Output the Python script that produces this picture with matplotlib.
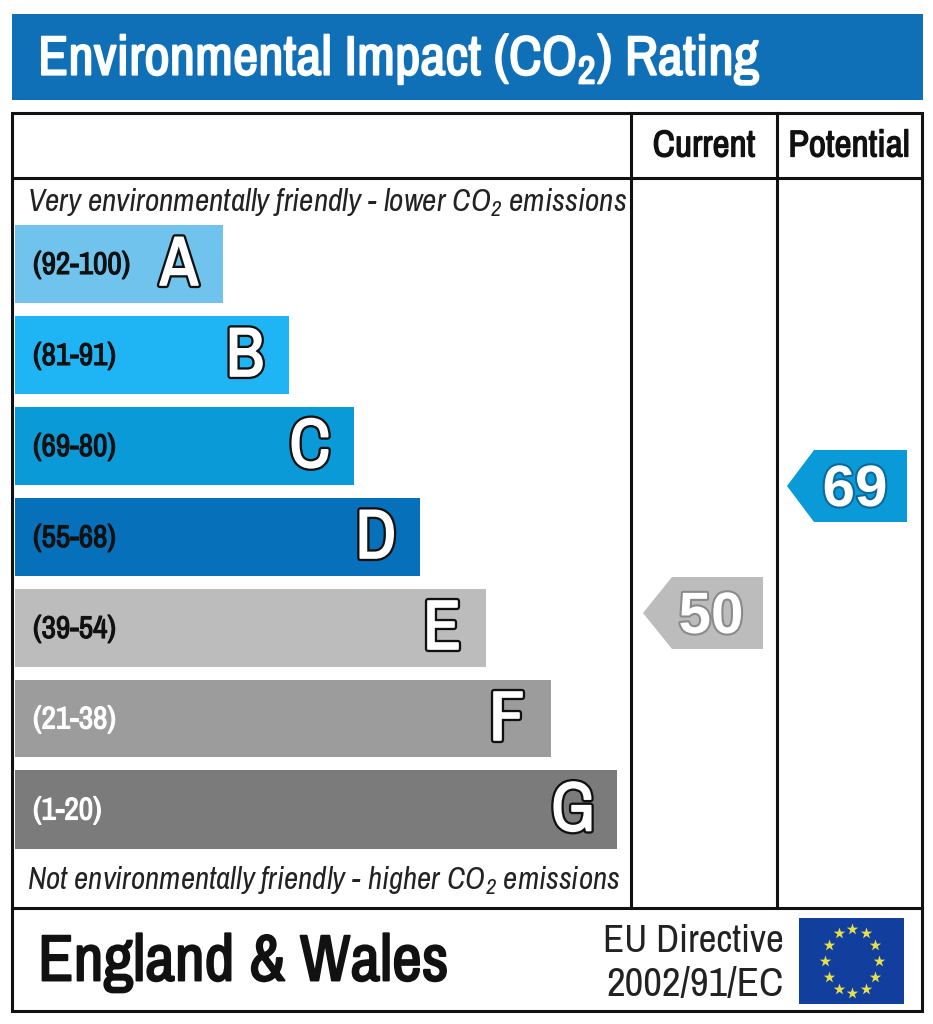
import numpy as np
import matplotlib.pyplot as plt
import matplotlib.patheffects as pe
from matplotlib.patches import Polygon, Rectangle

W, H = 933, 1024

bands = ['(92-100)', '(81-91)', '(69-80)', '(55-68)', '(39-54)', '(21-38)', '(1-20)']
letters = ['A', 'B', 'C', 'D', 'E', 'F', 'G']
bar_right = [223, 289, 354, 420, 486, 551, 617]
bar_top = [225, 316, 407, 498, 589, 680, 770]
bar_bottom = [303, 394, 485, 576, 667, 757, 849]
bar_colors = ['#6fc3ec', '#1fb5f5', '#0a9ad8', '#0670bb', '#bcbcbc', '#9c9c9c', '#7b7b7b']
label_colors = ['#111111', '#111111', '#111111', '#111111', '#111111', '#ffffff', '#ffffff']
current = 50
potential = 69

plt.rcParams['font.family'] = ['Archivo Narrow', 'Liberation Sans', 'DejaVu Sans']
plt.rcParams['mathtext.default'] = 'regular'
wide = ['Liberation Sans', 'DejaVu Sans']


# the narrow font only has one weight, so thicken it with a stroke
def heavy(color, width):
    return [pe.withStroke(linewidth=width, foreground=color)]


fig = plt.figure(figsize=(W / 100, H / 100), dpi=100)
ax = fig.add_axes([0, 0, 1, 1])
ax.set_xlim(0, W)
ax.set_ylim(H, 0)
ax.axis('off')

# header
ax.add_patch(Rectangle((12, 14), 911, 86, fc='#0f70b7', ec='none'))
ax.text(38, 60, 'Environmental Impact (CO$_2$) Rating', color='white', fontsize=40,
        va='center', ha='left', path_effects=heavy('white', 1.3))

# frame
lw = 2.2
ax.add_patch(Rectangle((12, 113), 910, 898, fc='none', ec='#111111', lw=lw))
ax.plot([12, 922], [178, 178], color='#111111', lw=lw)
ax.plot([12, 922], [908, 908], color='#111111', lw=lw)
ax.plot([631, 631], [113, 908], color='#111111', lw=lw)
ax.plot([777, 777], [113, 908], color='#111111', lw=lw)

ax.text(704, 146, 'Current', fontsize=27, ha='center', va='center', color='#111111',
        path_effects=heavy('#111111', 0.9))
ax.text(849, 146, 'Potential', fontsize=27, ha='center', va='center', color='#111111',
        path_effects=heavy('#111111', 0.9))

ax.text(27, 203, 'Very environmentally friendly - lower CO$_2$ emissions', fontsize=22.6,
        style='italic', va='center', color='#222222')
ax.text(27, 881, 'Not environmentally friendly - higher CO$_2$ emissions', fontsize=22.4,
        style='italic', va='center', color='#222222')

# bars
for i in range(len(bands)):
    top, bottom, right = bar_top[i], bar_bottom[i], bar_right[i]
    ax.add_patch(Rectangle((15, top), right - 15, bottom - top, fc=bar_colors[i], ec='none'))
    mid = (top + bottom) / 2
    ax.text(33, mid + 1, bands[i], fontsize=22.6, va='center', color=label_colors[i],
            path_effects=heavy(label_colors[i], 0.8))
    ax.text(right - 44, mid + 2, letters[i], fontsize=50, ha='center', va='center', color='white',
            path_effects=[pe.Stroke(linewidth=4.5, foreground='#111111'),
                          pe.Stroke(linewidth=1.2, foreground='white'), pe.Normal()])


# arrows
def arrow(x0, x1, tip, top, bottom, color, value, edge):
    mid = (top + bottom) / 2
    ax.add_patch(Polygon([(tip, mid), (x0, top), (x1, top), (x1, bottom), (x0, bottom)],
                         closed=True, fc=color, ec='none'))
    ax.text(x1 - 52, mid + 5, str(value), fontsize=42, fontweight='bold', family=wide,
            ha='center', va='center', color='white',
            path_effects=[pe.Stroke(linewidth=3, foreground=edge), pe.Normal()])


arrow(672, 763, 643, 577, 649, '#bcbcbc', current, '#8a8a8a')
arrow(814, 907, 787, 450, 522, '#0a9ad8', potential, '#0a6a9c')

# footer
ax.text(38, 963, 'England & Wales', fontsize=47, va='center', color='#111111',
        path_effects=heavy('#111111', 1.4))
ax.text(784, 941, 'EU Directive', fontsize=28, ha='right', va='center', color='#222222')
ax.text(784, 985, '2002/91/EC', fontsize=29.5, ha='right', va='center', color='#222222')

# EU flag
ax.add_patch(Rectangle((799, 918), 105, 86, fc='#123f9e', ec='none'))
ang = np.deg2rad(np.arange(0, 360, 30))
ax.scatter(852 + 27 * np.cos(ang), 961 + 32 * np.sin(ang), marker='*', s=75, color='#e8e04a', linewidths=0)

fig.savefig('out.png', dpi=100)
